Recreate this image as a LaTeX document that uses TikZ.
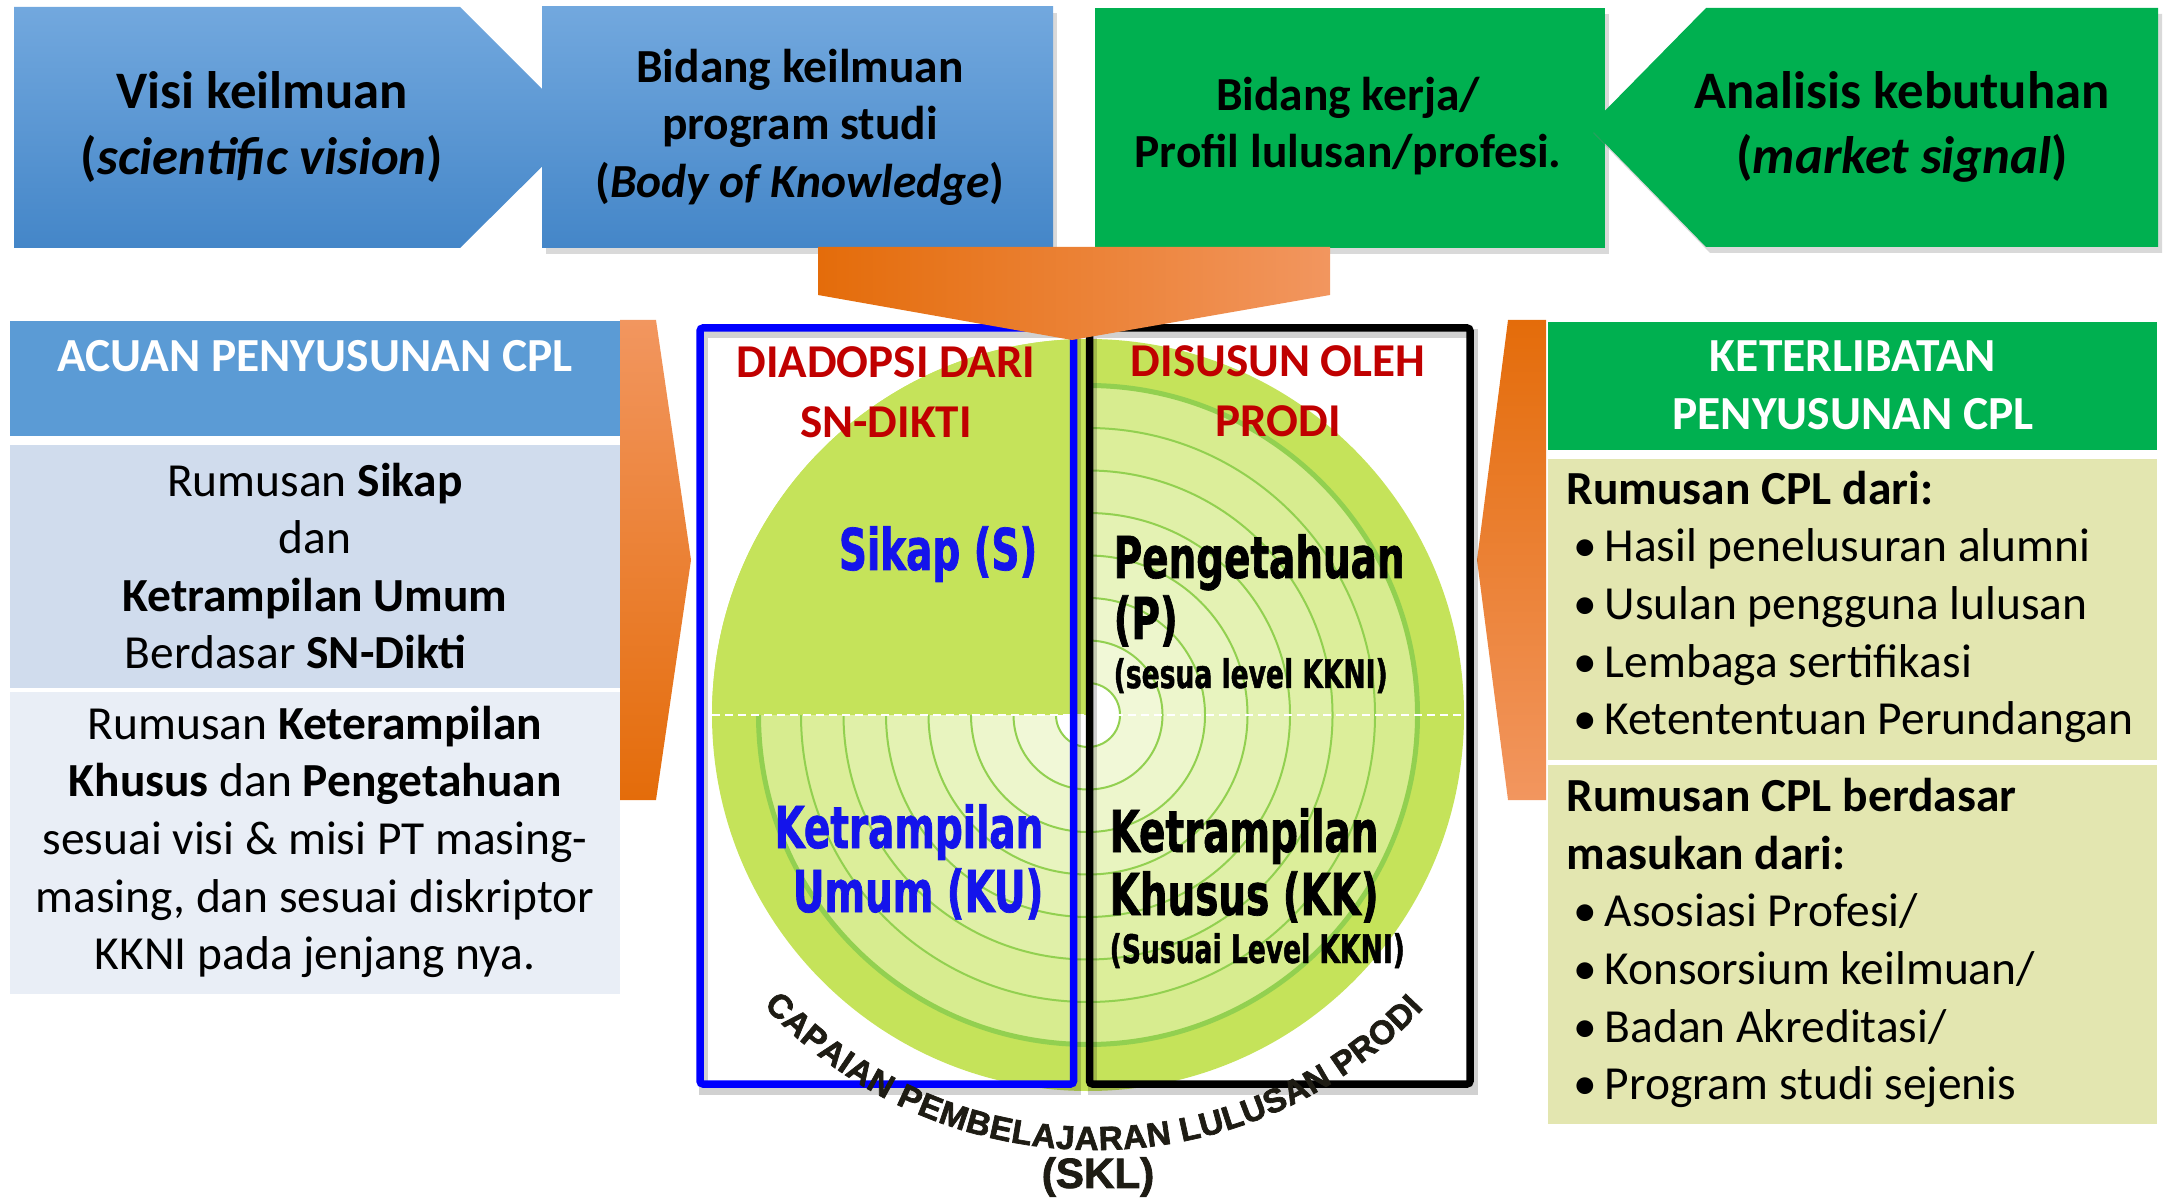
\documentclass[tikz,border=0pt]{standalone}
\usepackage{fontspec}
\setmainfont{Carlito}
\newfontfamily\wordfont[FakeStretch=0.75,FakeBold=1.2]{DejaVu Sans Condensed Bold}
\newfontfamily\sklfont[FakeBold=2]{Liberation Sans Bold}
\usetikzlibrary{shadows,decorations.text}

\definecolor{bluetop}{RGB}{114,168,222}
\definecolor{bluebot}{RGB}{68,134,200}
\definecolor{greenbox}{RGB}{0,176,80}
\definecolor{headblue}{RGB}{91,155,213}
\definecolor{rowblue}{RGB}{208,220,237}
\definecolor{rowpale}{RGB}{233,238,246}
\definecolor{khaki}{RGB}{227,230,176}
\definecolor{orangedark}{RGB}{228,108,10}
\definecolor{orangemid}{RGB}{240,125,40}
\definecolor{orangelight}{RGB}{242,150,95}
\definecolor{titlered}{RGB}{192,0,0}
\definecolor{ringbase}{RGB}{197,227,90}
\definecolor{ringline}{RGB}{146,208,80}
\definecolor{wordblue}{RGB}{20,20,235}
\definecolor{frameblue}{RGB}{0,0,255}
\definecolor{skltone}{RGB}{30,28,20}

\newcommand{\itembul}{\hspace*{2pt}\makebox[8.8pt][l]{\textbullet}}
\newcommand{\skltext}{\sklfont\fontsize{9.5}{12}\selectfont}

\tikzset{
  bigtext/.style={align=center, font=\bfseries\fontsize{15}{18.5}\selectfont},
  boxtext/.style={align=center, font=\bfseries\fontsize{13.5}{16.4}\selectfont},
  coltext/.style={align=center, font=\fontsize{13.5}{16.4}\selectfont},
  listtext/.style={align=left, inner sep=0pt, font=\fontsize{13.5}{16.4}\selectfont},
  headtext/.style={align=center, text=white, font=\bfseries\fontsize{13.5}{16.5}\selectfont},
  redtitle/.style={align=center, text=titlered, font=\bfseries\fontsize{13.4}{17.1}\selectfont},
  wordbig/.style={inner sep=0pt, font=\wordfont\fontsize{16.4}{18}\selectfont},
  wordsmall/.style={inner sep=0pt, font=\wordfont\fontsize{11.2}{13}\selectfont},
  ring/.style={draw=ringline, line width=0.2mm},
  boxshadow/.style={drop shadow={shadow xshift=0.4mm, shadow yshift=-0.6mm, opacity=0.3}},
  frame/.style={line width=0.75mm, rounded corners=0.3mm},
  frameshadow/.style={line width=0.9mm, draw=black, opacity=0.18, shift={(3,-6)}}
}

\begin{document}
\begin{tikzpicture}[x=0.1mm,y=0.1mm]
\path[use as bounding box] (0,0) rectangle (2164,-1198);

% top row
\path[top color=bluetop, bottom color=bluebot] (14,-7) -- (460,-7) -- (581,-128) -- (460,-248) -- (14,-248) -- cycle;
\path[top color=bluetop, bottom color=bluebot, boxshadow] (542,-7) rectangle (1053,-248);
\path[fill=greenbox, boxshadow] (1095,-8) rectangle (1605,-248);
\path[fill=greenbox, boxshadow] (1589,-127) -- (1706,-8) -- (2158,-8) -- (2158,-247) -- (1706,-247) -- cycle;

\node[bigtext] (visi) at (262,-127) {Visi keilmuan\\(\textit{scientific vision})};
\node[boxtext] (bidang) at (800,-127) {Bidang keilmuan\\program studi\\(\textit{Body of Knowledge})};
\node[boxtext] (kerja) at (1348,-126) {Bidang kerja/\\Profil lulusan/profesi.};
\node[bigtext] (analisis) at (1902,-127) {Analisis kebutuhan\\(\textit{market signal})};

% left column
\fill[headblue] (10,-321) rectangle (620,-436);
\fill[rowblue] (10,-445) rectangle (620,-688);
\fill[rowpale] (10,-692) rectangle (620,-994);
\node[headtext] (acuan) at (315,-356) {ACUAN PENYUSUNAN CPL};
\node[coltext] (sikapumum) at (315,-566) {Rumusan \textbf{Sikap}\\dan\\\textbf{Ketrampilan Umum}\\Berdasar \textbf{SN-Dikti}\hspace*{11pt}};
\node[coltext] (khusus) at (315,-842) {Rumusan \textbf{Keterampilan}\\\textbf{Khusus} dan \textbf{Pengetahuan}\\sesuai visi \& misi PT masing-\\masing, dan sesuai diskriptor\\KKNI pada jenjang nya.};

% right column
\fill[greenbox] (1548,-322) rectangle (2157,-450);
\fill[khaki] (1548,-459) rectangle (2157,-760);
\fill[khaki] (1548,-765) rectangle (2157,-1124);
\node[headtext] (libat) at (1853,-385) {KETERLIBATAN\\PENYUSUNAN CPL};
\node[listtext, anchor=west] (cpldari) at (1566,-607) {\textbf{Rumusan CPL dari:}\\\itembul Hasil penelusuran alumni\\\itembul Usulan pengguna lulusan\\\itembul Lembaga sertifikasi\\\itembul Ketententuan Perundangan};
\node[listtext, anchor=west] (masukan) at (1566,-943) {\textbf{Rumusan CPL berdasar}\\\textbf{masukan dari:}\\\itembul Asosiasi Profesi/\\\itembul Konsorsium keilmuan/\\\itembul Badan Akreditasi/\\\itembul Program studi sejenis};

% side arrows
\shade[top color=orangelight, middle color=orangemid, bottom color=orangedark] (620,-320) -- (656,-320) -- (691,-560) -- (656,-800) -- (620,-800) -- cycle;
\shade[top color=orangedark, middle color=orangemid, bottom color=orangelight] (1546,-320) -- (1508,-320) -- (1477,-560) -- (1508,-800) -- (1546,-800) -- cycle;

% circle
\coordinate (c) at (1088,-715);
\fill[ringbase] (c) circle[radius=376];
\foreach \r/\p in {329.5/68, 287/61, 244.5/53, 202/46, 159.5/39, 117/31, 74.5/24}
  \fill[ringbase!\p!white] (c) circle[radius=\r];
\fill[white] (c) circle[radius=32];
\foreach \r in {32, 74.5, 117, 159.5, 202, 244.5, 287}
  \draw[ring] (c) circle[radius=\r];
\draw[ring, line width=0.5mm] (c) circle[radius=329.5];
\fill[ringbase] (c) -- ++(-376,0) arc[start angle=180, end angle=90, radius=376] -- cycle;
\draw[white, line width=0.2mm, dash pattern=on 0.8mm off 0.5mm] (c) ++(-376,0) -- ++(752,0);

% frames
\draw[frameshadow] (700,-328) rectangle (1073.5,-1084);
\draw[frameshadow] (1089.5,-328) rectangle (1470,-1084);
\draw[frame, frameblue] (700,-328) rectangle (1073.5,-1084);
\draw[frame, black] (1089.5,-328) rectangle (1470,-1084);

% top orange arrow
\shade[left color=orangedark, middle color=orangemid, right color=orangelight] (818,-247) -- (1330,-247) -- (1330,-295) -- (1072,-340) -- (818,-295) -- cycle;

\node[redtitle] (diadopsi) at (886,-392) {DIADOPSI DARI\\SN-DIKTI};
\node[redtitle] (disusun) at (1278,-391) {DISUSUN OLEH\\PRODI};

\node[wordbig, text=wordblue, anchor=base east] (sikap) at (1038,-570) {Sikap (S)};
\node[wordbig, anchor=base west] (penget) at (1113,-578) {Pengetahuan};
\node[wordbig, anchor=base west] (pp) at (1113,-639) {(P)};
\node[wordsmall, anchor=base west] (sesua) at (1113,-688) {(sesua level KKNI)};
\node[wordbig, text=wordblue, anchor=base east] (kuone) at (1044,-848) {Ketrampilan};
\node[wordbig, text=wordblue, anchor=base east] (kutwo) at (1044,-912) {Umum (KU)};
\node[wordbig, anchor=base west] (kkone) at (1109,-852) {Ketrampilan};
\node[wordbig, anchor=base west] (kktwo) at (1109,-915) {Khusus (KK)};
\node[wordsmall, anchor=base west] (kkthree) at (1109,-963) {(Susuai Level KKNI)};

% curved caption
\coordinate (arcc) at (1095,-713);
\path[decorate, decoration={text along path, text color=skltone, text={|\skltext|CAPAIAN PEMBELAJARAN LULUSAN PRODI}, text align={fit to path}}]
  (arcc) ++(222:446 and 437) arc[start angle=222, end angle=317.5, x radius=446, y radius=437];
\node[text=skltone, font=\sklfont\fontsize{12}{14}\selectfont] (skl) at (1098,-1177) {(SKL)};
\end{tikzpicture}
\end{document}
